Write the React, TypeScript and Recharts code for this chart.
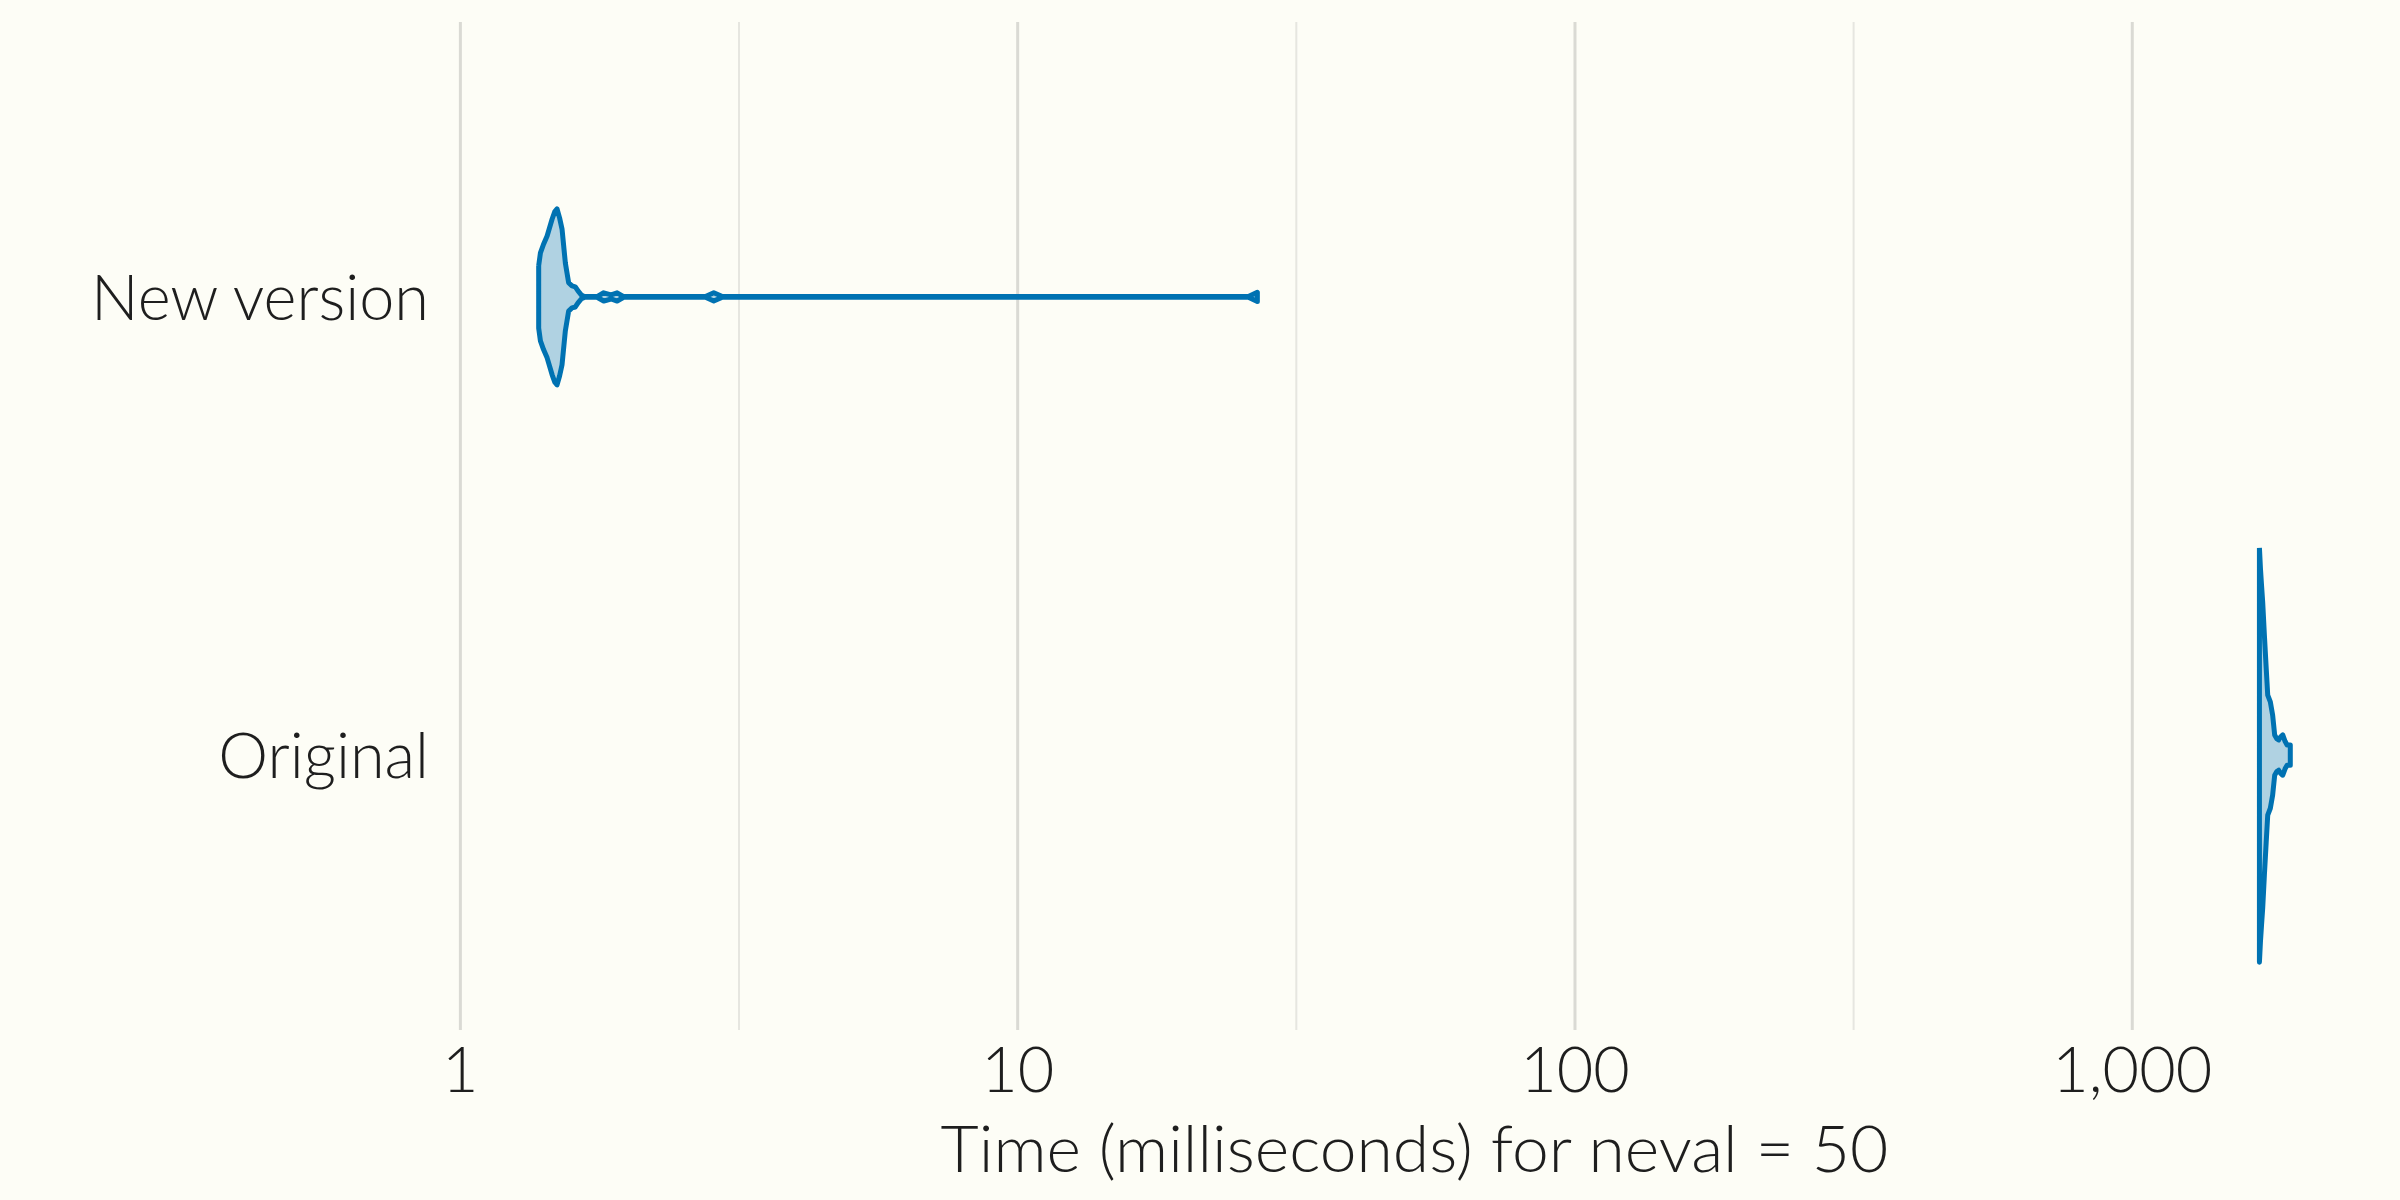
import React from "react";
import { ScatterChart, Scatter, XAxis, YAxis, CartesianGrid } from "recharts";

// y positions of the two groups (numeric so the violins can be drawn around them)
const categoryLabels: Record<number, string> = { 1: "New version", 0: "Original" };
const categoryTicks = [0, 1];

// x axis (log, ms): decades labelled, half decades only get a grid line
const xTicks = [1, 3.162, 10, 31.62, 100, 316.2, 1000];
const xTickLabels = ["1", "", "10", "", "100", "", "1,000"];

// violin outline for "New version": time (ms) and half width (category units)
const newTimes = [
    1.382, 1.392, 1.41, 1.431, 1.461, 1.477, 1.491, 1.507, 1.522, 1.543, 1.564, 1.586, 1.608,
    1.626, 1.649, 1.669, 1.72, 1.759, 1.808, 1.864, 1.911, 1.963, 2.3, 2.753, 2.849, 2.952, 5,
    12, 25.94, 26.92,
];
const newHalfWidths = [
    0.068, 0.096, 0.115, 0.133, 0.17, 0.186, 0.192, 0.172, 0.148, 0.074, 0.031, 0.024, 0.022,
    0.013, 0.004, 0.001, 0.0007, 0.0007, 0.009, 0.0045, 0.009, 0.0007, 0.0007, 0.0007, 0.009,
    0.0007, 0.0007, 0.0007, 0.0007, 0.01,
];

// violin outline for "Original"
const originalTimes = [
    1691, 1698, 1706, 1714, 1726, 1739, 1750, 1769, 1786, 1801, 1816, 1831, 1846, 1862, 1880,
    1896, 1921,
];
const originalHalfWidths = [
    0.452, 0.408, 0.37, 0.334, 0.262, 0.19, 0.131, 0.116, 0.087, 0.044, 0.036, 0.033, 0.04,
    0.044, 0.03, 0.022, 0.022,
];

const violinPoints = (times: number[], widths: number[], pos: number) => {
    const upper = times.map((t, i) => ({ x: t, y: pos + widths[i] }));
    const lower = times.map((t, i) => ({ x: t, y: pos - widths[i] })).reverse();
    return [...upper, ...lower, upper[0]];
};

const newData = violinPoints(newTimes, newHalfWidths, 1);
const originalData = violinPoints(originalTimes, originalHalfWidths, 0);

const BLUE = "#0072b2";
const FONT = "Lato, 'Open Sans', sans-serif";
const TEXT = "#1e1e1e";

const XTick = (props: any) => {
    const { x, y, index } = props;
    const label = xTickLabels[index];
    if (!label) return null;
    return (
        <text x={x} y={y + 62} textAnchor="middle" fill={TEXT} fontSize={63} fontWeight={300} fontFamily={FONT}>
            {label}
        </text>
    );
};

const YTick = (props: any) => {
    const { x, y, payload } = props;
    return (
        <text x={x - 22} y={y + 23} textAnchor="end" fill={TEXT} fontSize={63} fontWeight={300} fontFamily={FONT}>
            {categoryLabels[payload.value]}
        </text>
    );
};

const AxisTitle = (props: any) => {
    const vb = props.viewBox || { x: 451, y: 1030, width: 1927 };
    return (
        <text
            x={vb.x + vb.width / 2}
            y={vb.y + 142}
            textAnchor="middle"
            fill={TEXT}
            fontSize={66}
            fontWeight={300}
            fontFamily={FONT}
        >
            Time (milliseconds) for neval = 50
        </text>
    );
};

const GridLine = (props: any) => {
    const { x1, y1, x2, y2, index } = props;
    const major = index % 2 === 0;
    return (
        <line
            x1={x1}
            y1={y1}
            x2={x2}
            y2={y2}
            stroke={major ? "#dadad4" : "#e6e6e0"}
            strokeWidth={major ? 3 : 2}
        />
    );
};

const violinLine = {
    stroke: BLUE,
    strokeWidth: 5,
    fill: BLUE,
    fillOpacity: 0.3,
    strokeLinejoin: "round",
};

export default function App() {
    return (
        <div style={{ position: "absolute", left: 0, top: 0, width: 2400, height: 1200, background: "#fdfdf6" }}>
            <ScatterChart width={2400} height={1200} margin={{ top: 22, right: 22, bottom: 0, left: 0 }}>
                <CartesianGrid horizontal={false} vertical={GridLine} syncWithTicks />
                <XAxis
                    type="number"
                    dataKey="x"
                    scale="log"
                    domain={[0.962, 2760]}
                    allowDataOverflow
                    ticks={xTicks}
                    interval={0}
                    axisLine={false}
                    tickLine={false}
                    tickSize={0}
                    tickMargin={0}
                    tick={XTick}
                    height={170}
                    label={{ content: AxisTitle }}
                />
                <YAxis
                    type="number"
                    dataKey="y"
                    domain={[-0.6, 1.6]}
                    allowDataOverflow
                    ticks={categoryTicks}
                    interval={0}
                    axisLine={false}
                    tickLine={false}
                    tickSize={0}
                    tickMargin={0}
                    tick={YTick}
                    width={451}
                />
                <Scatter
                    data={newData}
                    line={violinLine}
                    lineJointType="linear"
                    shape={() => <g />}
                    isAnimationActive={false}
                />
                <Scatter
                    data={originalData}
                    line={violinLine}
                    lineJointType="linear"
                    shape={() => <g />}
                    isAnimationActive={false}
                />
            </ScatterChart>
        </div>
    );
}
